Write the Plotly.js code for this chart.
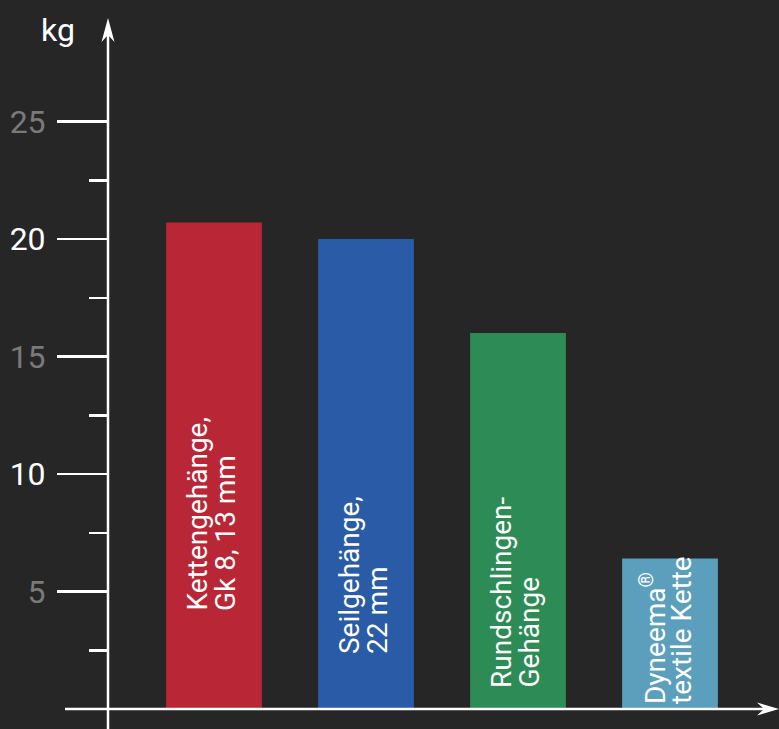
<!DOCTYPE html>
<html>
<head>
<meta charset="utf-8">
<script src="https://cdn.plot.ly/plotly-3.0.1.min.js"></script>
<style>html,body{margin:0;padding:0;background:#262626;}#chart{width:779px;height:729px;}</style>
</head>
<body>
<div id="chart"></div>
<script>
// ---- data ----
var categories = ["Kettengehänge", "Seilgehänge", "Rundschlingengehänge", "Dyneema textile Kette"];
var weights = [20.7, 20.0, 16.0, 6.4];
var labelLine1 = ["Kettengehänge,", "Seilgehänge,", "Rundschlingen-", "Dyneema<sup>®</sup>"];
var labelLine2 = ["Gk 8, 13 mm", "22 mm", "Gehänge", "textile Kette"];
var barColors = ["#b92736", "#2a5ba6", "#2d8c56", "#5b9fbc"];
var majorTicks = [5, 10, 15, 20, 25];
var minorTicks = [2.5, 7.5, 12.5, 17.5, 22.5];
var tickLabels = ["5", "10", "15", "20", "25"];
var tickLabelColors = ["#7a7a7a", "#ffffff", "#7a7a7a", "#ffffff", "#7a7a7a"];
var unitLabel = "kg";

// ---- layout helpers ----
var W = 779, H = 729;
var M = {l: 108, r: 0, t: 18, b: 20};
var plotW = W - M.l - M.r, plotH = H - M.t - M.b;
var labelBottomShift = [96, 53, 19, 3];

var annotations = [];
categories.forEach(function (c, i) {
  annotations.push({
    x: c, y: 0, xref: 'x', yref: 'paper', yanchor: 'bottom', xanchor: 'center',
    yshift: labelBottomShift[i], xshift: -17, textangle: -90, showarrow: false,
    text: labelLine1[i], font: {family: 'Roboto', size: 28, color: '#ffffff'}
  });
  annotations.push({
    x: c, y: 0, xref: 'x', yref: 'paper', yanchor: 'bottom', xanchor: 'center',
    yshift: labelBottomShift[i], xshift: 11, textangle: -90, showarrow: false,
    text: labelLine2[i], font: {family: 'Roboto', size: 28, color: '#ffffff'}
  });
});
annotations.push({
  x: (58 - M.l) / plotW, y: 1 - 12 / plotH, xref: 'paper', yref: 'paper',
  xanchor: 'center', yanchor: 'middle', showarrow: false, text: unitLabel,
  font: {family: 'Roboto', size: 32, color: '#ffffff'}
});

var shapes = [
  // y axis line
  {type: 'line', xref: 'paper', yref: 'paper', x0: 0, x1: 0, y0: -M.b / plotH, y1: 1 - 12 / plotH,
   line: {color: '#ffffff', width: 2.5}},
  // y arrow head
  {type: 'path', xref: 'paper', yref: 'paper', xsizemode: 'pixel', ysizemode: 'pixel',
   xanchor: 0, yanchor: 1, path: 'M0,0L-6.5,-24L0,-17L6.5,-24Z',
   fillcolor: '#ffffff', line: {width: 0}},
  // x axis line
  {type: 'line', xref: 'paper', yref: 'paper', x0: (65 - M.l) / plotW, x1: 1 - 12 / plotW, y0: 0, y1: 0,
   line: {color: '#ffffff', width: 2.5}},
  // x arrow head
  {type: 'path', xref: 'paper', yref: 'paper', xsizemode: 'pixel', ysizemode: 'pixel',
   xanchor: 1, yanchor: 0, path: 'M0,0L-22,6.5L-15,0L-22,-6.5Z',
   fillcolor: '#ffffff', line: {width: 0}}
];

var trace = {
  type: 'bar', x: categories, y: weights, width: 0.63,
  marker: {color: barColors, line: {width: 0}},
  hoverinfo: 'none', showlegend: false
};

var layout = {
  width: W, height: H, margin: M,
  paper_bgcolor: '#262626', plot_bgcolor: '#262626',
  showlegend: false,
  xaxis: {range: [-106 / 152, 565 / 152], showticklabels: false, ticks: '', showgrid: false,
          zeroline: false, showline: false, fixedrange: true},
  yaxis: {range: [0, plotH / 23.5], showgrid: false, zeroline: false, showline: false,
          tickmode: 'array', tickvals: majorTicks,
          ticktext: tickLabels.map(function (t, i) { return '<span style="color:' + tickLabelColors[i] + '">' + t + '</span>'; }),
          ticks: 'outside', ticklen: 50, tickwidth: 2.5, tickcolor: '#ffffff',
          ticklabelstandoff: 5,
          tickfont: {family: 'Roboto', size: 32, color: '#ffffff'},
          minor: {tickmode: 'array', tickvals: minorTicks, ticks: 'outside', ticklen: 18, tickwidth: 2.5,
                  tickcolor: '#ffffff', showgrid: false},
          fixedrange: true},
  annotations: annotations,
  shapes: shapes
};

Plotly.newPlot('chart', [trace], layout, {displayModeBar: false, staticPlot: true});
</script>
</body>
</html>
